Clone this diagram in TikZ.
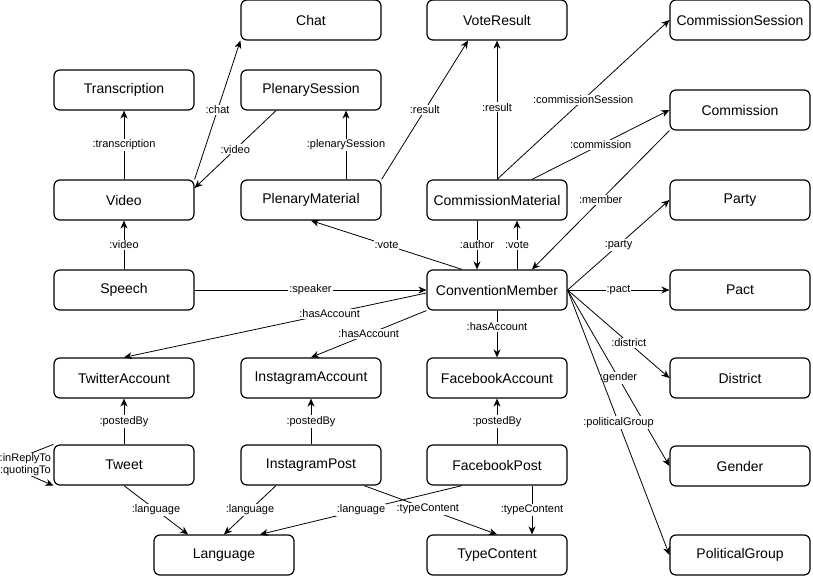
\documentclass[tikz,border=0pt]{standalone}
\usepackage{fontspec}
\setmainfont{Liberation Sans}
\usetikzlibrary{arrows.meta}
\tikzset{
    box/.style={draw, rounded corners=6pt, line width=1.2pt, minimum width=140pt, minimum height=40pt, inner sep=0pt, font=\fontsize{14}{16}\selectfont},
    lbl/.style={fill=white, inner sep=1pt, font=\fontsize{11}{12}\selectfont},
    arr/.style={-{Stealth[length=8pt, width=7pt, inset=2.5pt]}, line width=0.8pt}
}
\begin{document}
\begin{tikzpicture}[x=1pt, y=-1pt]
    \useasboundingbox (0, 0) rectangle (813, 577);

    \node[box] (chat) at (311, 20) {Chat};
    \node[box] (voteresult) at (497, 20) {VoteResult};
    \node[box] (commissionsession) at (740, 20) {CommissionSession};

    \node[box] (transcription) at (124, 90) {Transcription};
    \node[box] (plenarysession) at (311, 90) {PlenarySession};
    \node[box] (commission) at (740, 110) {Commission};

    \node[box] (video) at (124, 200) {Video};
    \node[box] (plenarymaterial) at (311, 200) {PlenaryMaterial};
    \node[box] (commissionmaterial) at (497, 200) {CommissionMaterial};
    \node[box] (party) at (740, 200) {Party};

    \node[box] (speech) at (124, 290) {Speech};
    \node[box] (conventionmember) at (497, 290) {ConventionMember};
    \node[box] (pact) at (740, 290) {Pact};

    \node[box] (twitteraccount) at (124, 378) {TwitterAccount};
    \node[box] (instagramaccount) at (311, 378) {InstagramAccount};
    \node[box] (facebookaccount) at (497, 378) {FacebookAccount};
    \node[box] (district) at (740, 378) {District};

    \node[box] (tweet) at (124, 465) {Tweet};
    \node[box] (instagrampost) at (311, 465) {InstagramPost};
    \node[box] (facebookpost) at (497, 465) {FacebookPost};
    \node[box] (gender) at (740, 466) {Gender};

    \node[box] (language) at (224, 555) {Language};
    \node[box] (typecontent) at (497, 555) {TypeContent};
    \node[box] (politicalgroup) at (740, 555) {PoliticalGroup};

    \path[every edge/.style={draw, arr}]
        (video.north) edge node[lbl]{:transcription} (transcription.south)
        (video.north east) edge node[lbl]{:chat} (chat.south west)
        ([xshift=-35pt]plenarysession.south) edge node[lbl]{:video} ([yshift=12pt]video.east)
        ([xshift=35pt]plenarymaterial.north) edge node[lbl]{:plenarySession} ([xshift=35pt]plenarysession.south)
        (plenarymaterial.north east) edge node[lbl]{:result} ([xshift=-29pt]voteresult.south)
        (commissionmaterial.north) edge node[lbl, pos=0.52]{:result} (voteresult.south)
        (commissionmaterial.north) edge node[lbl]{:commissionSession} (commissionsession.west)
        ([xshift=35pt]commissionmaterial.north) edge node[lbl]{:commission} (commission.west)
        (commission.south west) edge node[lbl]{:member} ([xshift=35pt]conventionmember.north)

        (speech.north) edge node[lbl]{:video} (video.south)
        (speech.east) edge node[lbl]{:speaker} (conventionmember.west)
        ([xshift=-35pt]conventionmember.north) edge node[lbl]{:vote} (plenarymaterial.south)
        ([xshift=20pt]conventionmember.north) edge node[lbl]{:vote} ([xshift=20pt]commissionmaterial.south)
        ([xshift=-20pt]commissionmaterial.south) edge node[lbl]{:author} ([xshift=-20pt]conventionmember.north)

        (conventionmember.east) edge node[lbl]{:party} (party.west)
        (conventionmember.east) edge node[lbl]{:pact} (pact.west)
        (conventionmember.east) edge node[lbl, pos=0.6]{:district} (district.west)
        (conventionmember.east) edge node[lbl]{:gender} (gender.west)
        (conventionmember.east) edge node[lbl]{:politicalGroup} (politicalgroup.west)

        ([yshift=-3pt]conventionmember.west) edge node[lbl, pos=0.32]{:hasAccount} (twitteraccount.north)
        (conventionmember.south west) edge node[lbl]{:hasAccount} (instagramaccount.north)
        (conventionmember.south) edge node[lbl, pos=0.35]{:hasAccount} (facebookaccount.north)

        (tweet.north) edge node[lbl]{:postedBy} (twitteraccount.south)
        (instagrampost.north) edge node[lbl]{:postedBy} (instagramaccount.south)
        (facebookpost.north) edge node[lbl]{:postedBy} (facebookaccount.south)

        (tweet.south) edge node[lbl]{:language} ([xshift=-36pt]language.north)
        ([xshift=-35pt]instagrampost.south) edge node[lbl]{:language} (language.north)
        ([xshift=-35pt]facebookpost.south) edge node[lbl]{:language} ([xshift=36pt]language.north)
        ([xshift=53pt]instagrampost.south) edge node[lbl, pos=0.48]{:typeContent} (typecontent.north)
        ([xshift=35pt]facebookpost.south) edge node[lbl]{:typeContent} ([xshift=35pt]typecontent.north)
    ;

    \draw[arr] (tweet.north west) -- ++(-28, 11) -- node[lbl, align=center, inner sep=0pt]{:inReplyTo\\:quotingTo} ++(0, 18) -- (tweet.south west);
\end{tikzpicture}
\end{document}
